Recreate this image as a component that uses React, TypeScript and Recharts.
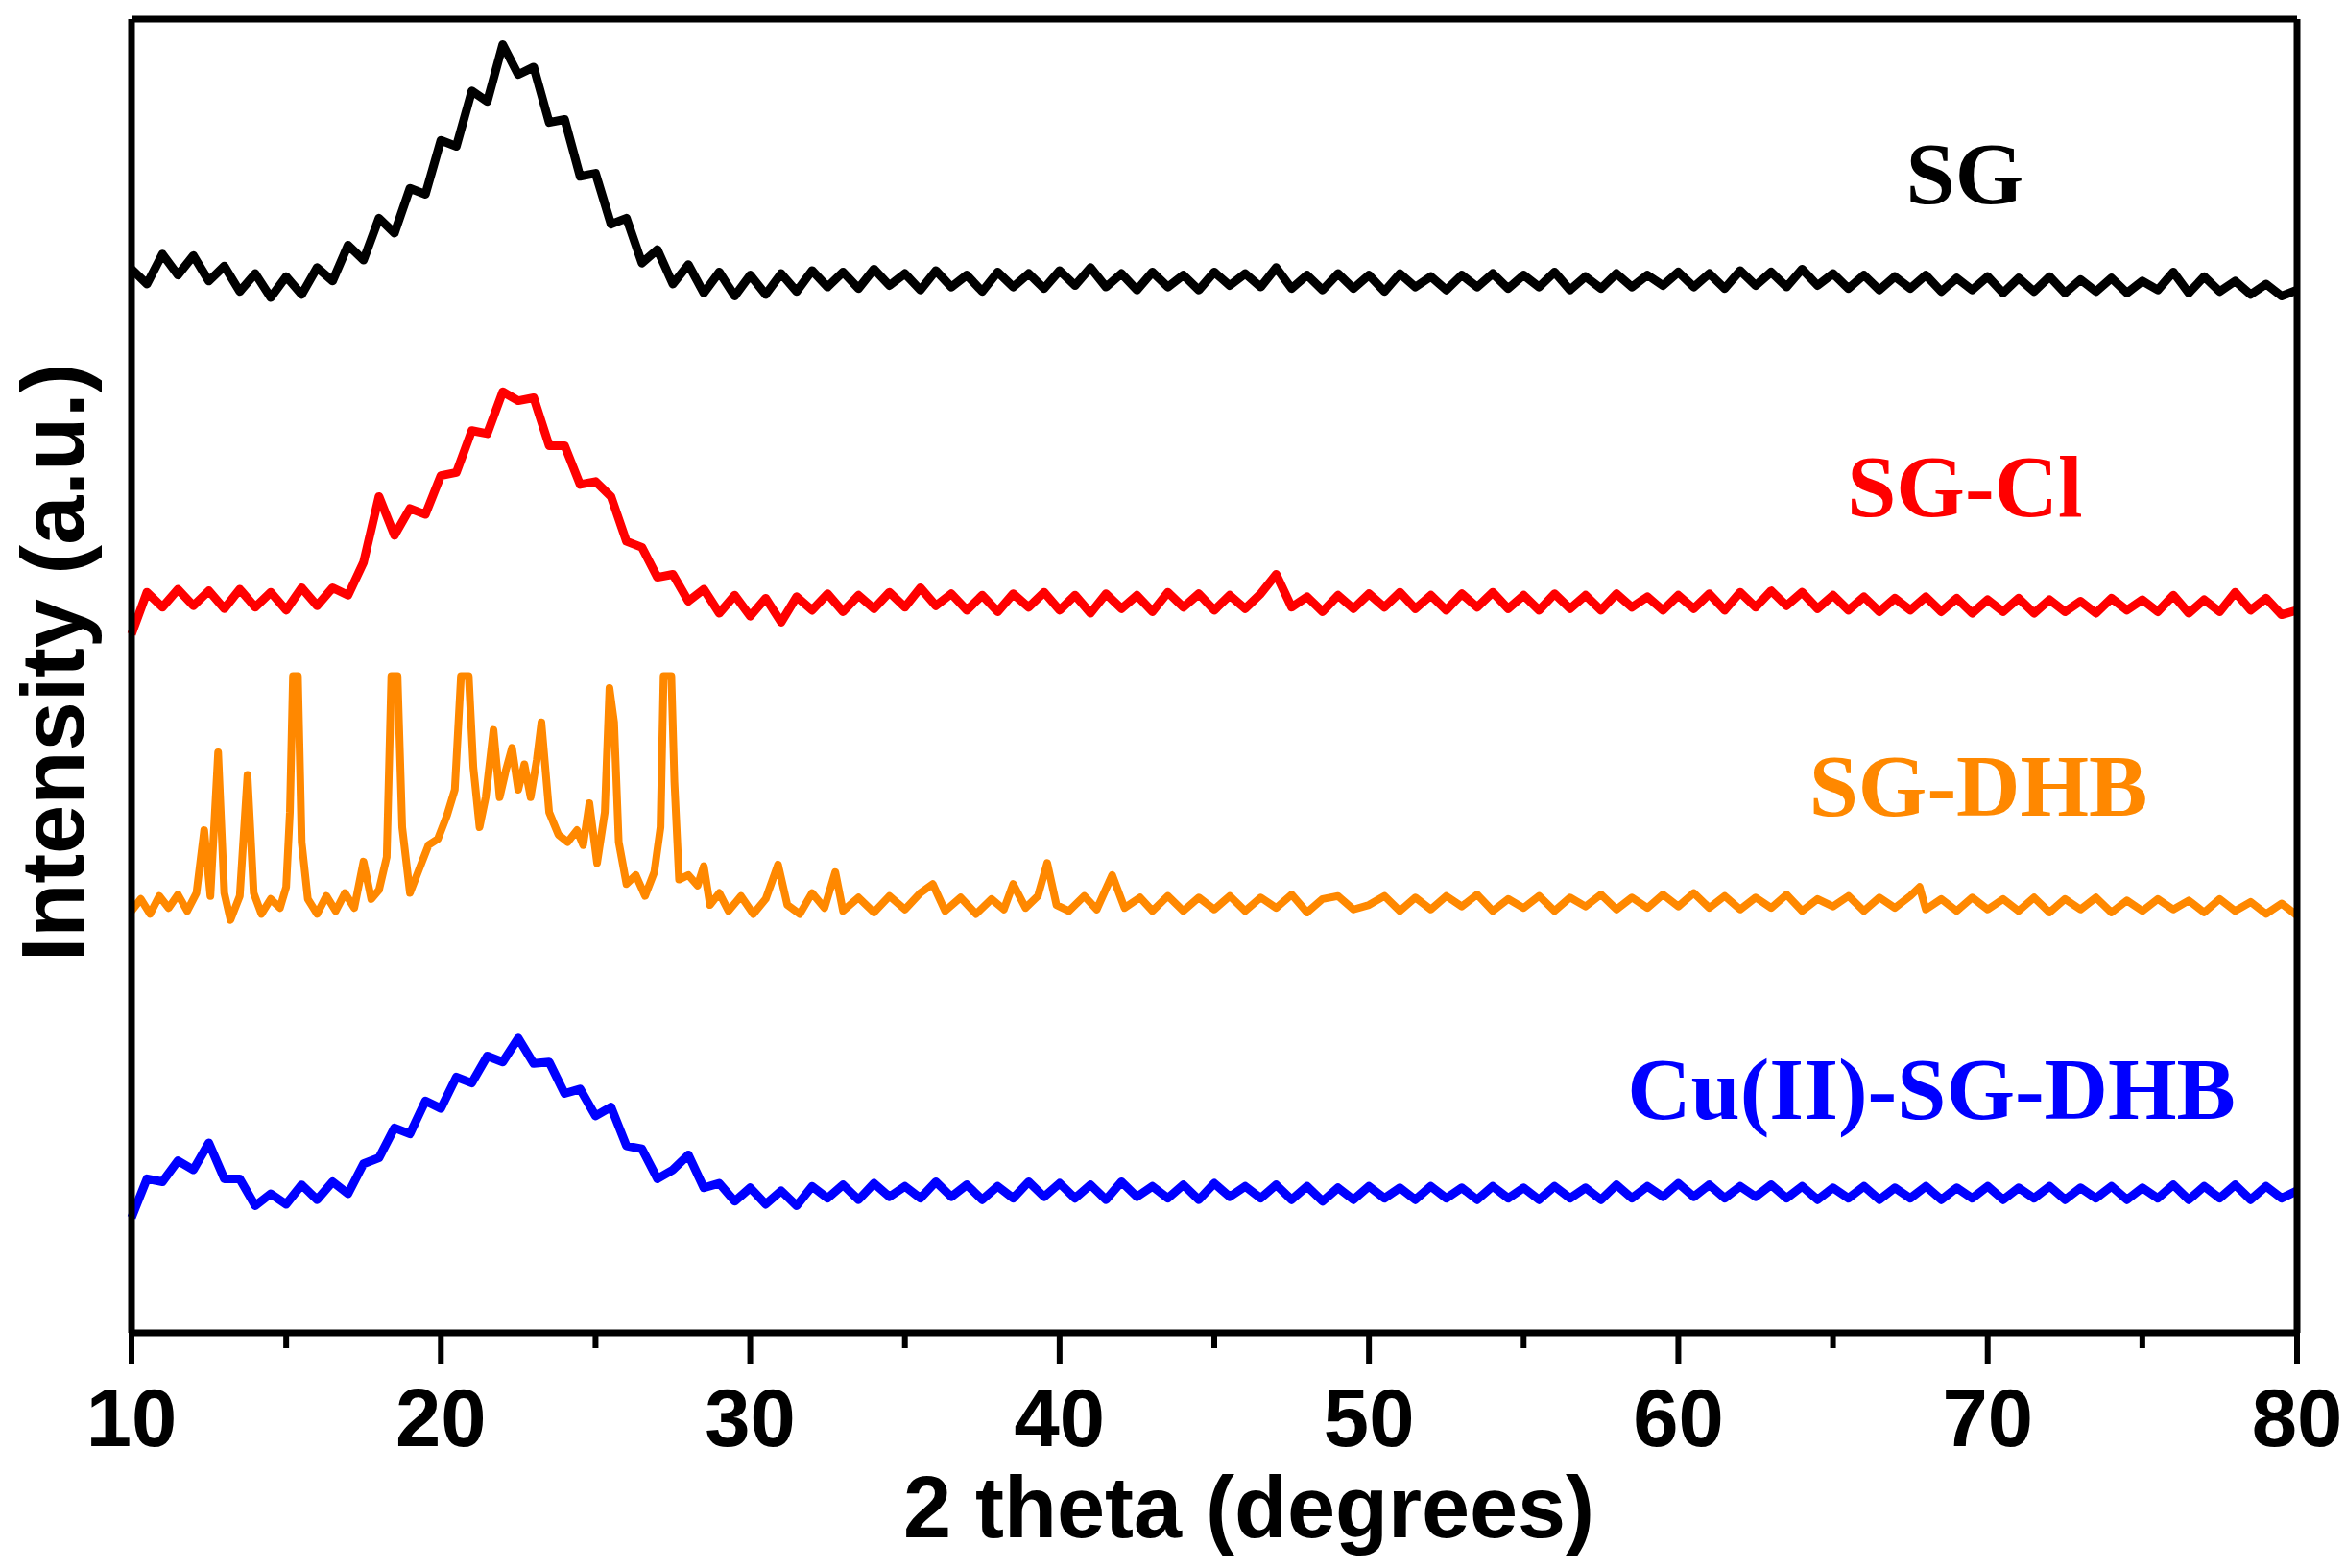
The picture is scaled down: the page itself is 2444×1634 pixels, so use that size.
import React from "react";
import { LineChart, Line, XAxis, YAxis, ReferenceDot } from "recharts";

// scan grid for SG, SG-Cl and Cu(II)-SG-DHB: 10..80 deg, 0.5 deg step
const twoTheta = Array.from({ length: 141 }, (_, i) => 10 + i * 0.5);

// net intensity (a.u.), one row = 5 degrees
const sgRaw = [
  6, -4, 16, 2, 15, -2, 8, -9, 3, -13,
  1, -11, 7, -2, 22, 12, 40, 30, 60, 56,
  92, 88, 125, 118, 156, 136, 141, 104, 106, 68,
  70, 36, 40, 10, 19, -4, 9, -10, 4, -12,
  2, -11, 3, -9, 5, -6, 4, -7, 6, -5,
  3, -8, 5, -6, 2, -9, 4, -6, 3, -7,
  5, -5, 7, -6, 3, -8, 4, -6, 2, -8,
  4, -5, 3, -6, 7, -7, 2, -8, 3, -7,
  2, -9, 3, -6, 1, -8, 2, -6, 3, -7,
  2, -6, 4, -8, 1, -7, 3, -6, 2, -5,
  4, -6, 3, -7, 5, -5, 4, -6, 6, -5,
  3, -7, 2, -8, 1, -7, 2, -9, 0, -8,
  1, -10, 0, -9, 1, -10, -1, -9, 0, -10,
  -2, -8, 4, -10, 1, -9, -2, -11, -4, -12,
  -8,
];

const sgClRaw = [
  -22, 6, -4, 8, -3, 7, -5, 8, -4, 6,
  -6, 9, -3, 9, 4, 26, 70, 44, 62, 58,
  84, 86, 114, 112, 140, 134, 136, 104, 104, 78,
  80, 70, 40, 36, 16, 18, 0, 8, -8, 4,
  -10, 2, -14, 3, -6, 5, -7, 4, -5, 6,
  -4, 9, -3, 5, -6, 4, -7, 5, -4, 6,
  -6, 4, -8, 5, -5, 4, -7, 6, -4, 5,
  -6, 4, -5, 5, 18, -4, 3, -7, 4, -5,
  5, -4, 6, -5, 4, -6, 5, -4, 6, -5,
  4, -6, 5, -5, 4, -6, 5, -4, 3, -6,
  4, -5, 5, -6, 6, -4, 7, -3, 6, -5,
  4, -6, 3, -7, 2, -6, 3, -7, 2, -8,
  1, -7, 2, -8, 1, -7, 0, -8, 2, -6,
  1, -7, 4, -8, 1, -7, 6, -6, 2, -9,
  -6,
];

const cuRaw = [
  -18, 8, 6, 20, 14, 32, 8, 8, -10, -2,
  -9, 4, -6, 6, -2, 18, 22, 42, 38, 60,
  55, 76, 72, 90, 86, 102, 85, 86, 65, 68,
  50, 56, 30, 28, 8, 14, 24, 2, 5, -7,
  2, -9, 0, -10, 3, -5, 4, -6, 5, -4,
  3, -5, 6, -4, 4, -6, 3, -5, 6, -4,
  5, -5, 4, -6, 6, -4, 3, -5, 4, -6,
  5, -4, 3, -5, 4, -6, 3, -7, 2, -6,
  3, -5, 2, -6, 3, -5, 2, -6, 3, -5,
  2, -6, 3, -5, 2, -6, 4, -5, 3, -4,
  5, -4, 4, -5, 3, -4, 4, -5, 3, -6,
  2, -5, 3, -6, 2, -5, 3, -6, 2, -5,
  3, -6, 2, -5, 3, -6, 2, -5, 3, -6,
  2, -5, 4, -6, 3, -5, 4, -6, 3, -5,
  0,
];

// SG-DHB has sharp reflections, so it keeps its own [2theta, intensity] pairs
const dhbScan: [number, number][] = [
  [10.0, -6], [10.3, 2], [10.6, -8], [10.9, 4], [11.2, -4], [11.5, 5], [11.8, -6], [12.1, 6], [12.35, 48], [12.55, 4],
  [12.8, 100], [13.0, 6], [13.2, -12], [13.5, 4], [13.75, 85], [13.95, 6], [14.2, -8], [14.5, 2], [14.8, -4], [15.0, 10],
  [15.12, 60], [15.22, 151], [15.38, 151], [15.5, 40], [15.7, 2], [16.0, -8], [16.3, 4], [16.6, -6], [16.9, 6], [17.2, -4],
  [17.5, 27], [17.75, 2], [18.0, 8], [18.25, 30], [18.4, 151], [18.6, 151], [18.75, 50], [19.0, 6], [19.3, 22], [19.6, 38],
  [19.9, 42], [20.2, 58], [20.45, 75], [20.65, 151], [20.9, 151], [21.05, 90], [21.25, 50], [21.45, 70], [21.7, 115], [21.9, 70],
  [22.1, 88], [22.3, 103], [22.5, 75], [22.7, 92], [22.9, 70], [23.1, 95], [23.25, 120], [23.5, 60], [23.8, 45], [24.1, 40],
  [24.4, 48], [24.6, 38], [24.8, 66], [25.05, 26], [25.3, 60], [25.45, 143], [25.6, 120], [25.75, 40], [26.0, 12], [26.3, 18],
  [26.6, 4], [26.9, 20], [27.1, 50], [27.2, 151], [27.45, 151], [27.55, 80], [27.7, 15], [28.0, 18], [28.3, 11], [28.5, 24],
  [28.7, -2], [29.0, 6], [29.3, -6], [29.7, 4], [30.1, -8], [30.5, 2], [30.9, 25], [31.2, -2], [31.6, -8], [32.0, 6],
  [32.4, -4], [32.75, 20], [33.0, -6], [33.5, 3], [34.0, -7], [34.5, 4], [35.0, -5], [35.5, 6], [35.9, 12], [36.3, -6],
  [36.8, 3], [37.3, -8], [37.8, 2], [38.2, -5], [38.5, 12], [38.9, -4], [39.3, 4], [39.6, 26], [39.9, -2], [40.3, -6],
  [40.8, 4], [41.2, -5], [41.7, 18], [42.1, -4], [42.6, 3], [43.0, -6], [43.5, 4], [44.0, -6], [44.5, 3], [45.0, -5],
  [45.5, 4], [46.0, -6], [46.5, 3], [47.0, -4], [47.5, 5], [48.0, -7], [48.5, 2], [49.0, 4], [49.5, -5], [50.0, -2],
  [50.5, 4], [51.0, -6], [51.5, 3], [52.0, -5], [52.5, 4], [53.0, -3], [53.5, 5], [54.0, -6], [54.5, 2], [55.0, -4],
  [55.5, 4], [56.0, -6], [56.5, 3], [57.0, -3], [57.5, 5], [58.0, -5], [58.5, 3], [59.0, -4], [59.5, 5], [60.0, -3],
  [60.5, 6], [61.0, -4], [61.5, 4], [62.0, -5], [62.5, 3], [63.0, -4], [63.5, 5], [64.0, -6], [64.5, 2], [65.0, -3],
  [65.5, 4], [66.0, -6], [66.5, 3], [67.0, -4], [67.5, 4], [67.8, 10], [68.0, -5], [68.5, 2], [69.0, -6], [69.5, 3],
  [70.0, -5], [70.5, 2], [71.0, -6], [71.5, 3], [72.0, -7], [72.5, 2], [73.0, -5], [73.5, 3], [74.0, -7], [74.5, 1],
  [75.0, -6], [75.5, 2], [76.0, -5], [76.5, 1], [77.0, -7], [77.5, 2], [78.0, -6], [78.5, 0], [79.0, -8], [79.5, -1],
  [80.0, -9],
];

// stacking offsets, names and colours (top to bottom)
const seriesNames = ["SG", "SG-Cl", "SG-DHB", "Cu(II)-SG-DHB"];
const seriesOffsets = [705, 489, 288, 95];
const seriesColors = ["#000000", "#FF0000", "#FF8800", "#0000FF"];
const seriesWidths = [9, 9, 8, 9];

// where each name sits (2theta, intensity level of the text baseline)
const tagTheta = [69.26, 69.26, 69.7, 68.18];
const tagLevel = [755, 546, 346, 143];

const xTicks = [10, 15, 20, 25, 30, 35, 40, 45, 50, 55, 60, 65, 70, 75, 80];

const SANS = "'Liberation Sans', Arial, sans-serif";
const SERIF = "'Liberation Serif', 'Times New Roman', serif";

const onGrid = (raw: number[], off: number) =>
  raw.map((v, i) => ({ x: twoTheta[i], y: v + off }));

const seriesData = [
  onGrid(sgRaw, seriesOffsets[0]),
  onGrid(sgClRaw, seriesOffsets[1]),
  dhbScan.map(([t, v]) => ({ x: t, y: v + seriesOffsets[2] })),
  onGrid(cuRaw, seriesOffsets[3]),
];

function XTick(props: any) {
  const { x, y, payload } = props;
  const major = payload.value % 10 === 0;
  return (
    <g>
      <line x1={x} y1={y} x2={x} y2={y + (major ? 32 : 16)} stroke="#000" strokeWidth={6} />
      {major && (
        <text x={x} y={y + 118} textAnchor="middle" fontFamily={SANS} fontWeight="bold" fontSize={85} fill="#000">
          {payload.value}
        </text>
      )}
    </g>
  );
}

function XTitle(props: any) {
  const vb = props.viewBox || { x: 137, y: 1389, width: 2256 };
  return (
    <text x={vb.x + vb.width / 2 + 36} y={vb.y + 213} textAnchor="middle" fontFamily={SANS} fontWeight="bold" fontSize={90} fill="#000">
      2 theta (degrees)
    </text>
  );
}

function YTitle(props: any) {
  const vb = props.viewBox || { y: 20, height: 1369 };
  const cy = vb.y + vb.height / 2 - 14;
  return (
    <text transform={`translate(87, ${cy}) rotate(-90)`} textAnchor="middle" fontFamily={SANS} fontWeight="bold" fontSize={92} fill="#000">
      Intensity (a.u.)
    </text>
  );
}

const tagLabel = (name: string, color: string) => (props: any) => {
  const vb = props.viewBox;
  return (
    <text x={vb.x + vb.width / 2} y={vb.y + vb.height / 2} textAnchor="middle" fontFamily={SERIF} fontWeight="bold" fontSize={92} fill={color}>
      {name}
    </text>
  );
};

export default function App() {
  return (
    <div style={{ position: "absolute", left: 0, top: 0, width: 2444, height: 1634, background: "#fff" }}>
      <LineChart width={2444} height={1634} margin={{ top: 0, right: 0, bottom: 0, left: 0 }}>
        <XAxis
          dataKey="x"
          type="number"
          domain={[10, 80]}
          ticks={xTicks}
          interval={0}
          height={245}
          tickSize={0}
          tickMargin={0}
          tickLine={false}
          tick={<XTick />}
          axisLine={{ stroke: "#000", strokeWidth: 7 }}
          label={XTitle}
        />
        <XAxis
          xAxisId="top"
          orientation="top"
          type="number"
          domain={[10, 80]}
          height={20}
          tick={false}
          tickLine={false}
          axisLine={{ stroke: "#000", strokeWidth: 7 }}
        />
        <YAxis
          type="number"
          domain={[0, 878]}
          width={137}
          tick={false}
          tickLine={false}
          axisLine={{ stroke: "#000", strokeWidth: 7 }}
          label={YTitle}
        />
        <YAxis
          yAxisId="right"
          orientation="right"
          type="number"
          domain={[0, 878]}
          width={51}
          tick={false}
          tickLine={false}
          axisLine={{ stroke: "#000", strokeWidth: 7 }}
        />
        {seriesData.map((d, i) => (
          <Line
            key={seriesNames[i]}
            data={d}
            dataKey="y"
            name={seriesNames[i]}
            type="linear"
            dot={false}
            stroke={seriesColors[i]}
            strokeWidth={seriesWidths[i]}
            strokeLinejoin="round"
            isAnimationActive={false}
          />
        ))}
        {seriesNames.map((n, i) => (
          <ReferenceDot
            key={"tag-" + n}
            x={tagTheta[i]}
            y={tagLevel[i]}
            r={0}
            fill="none"
            stroke="none"
            label={tagLabel(n, seriesColors[i])}
          />
        ))}
      </LineChart>
    </div>
  );
}
